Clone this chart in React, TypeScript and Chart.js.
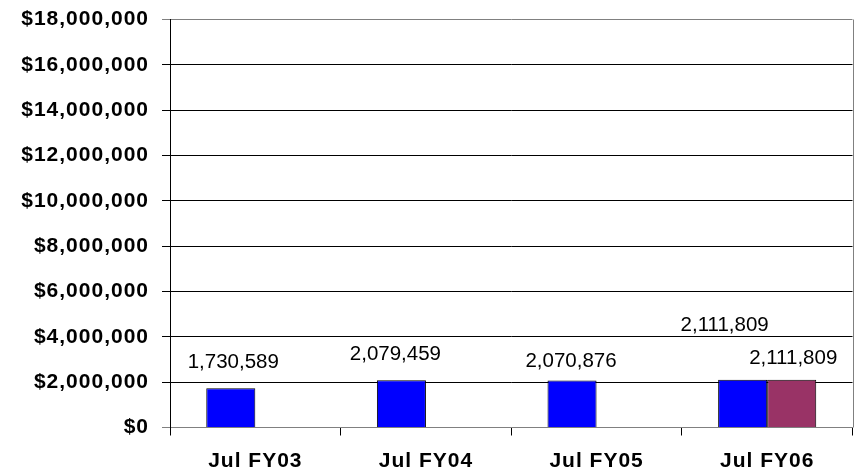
import React, { useEffect, useRef } from "react";
import { Chart, registerables } from "chart.js";

Chart.register(...registerables);

const categories = ["Jul FY03", "Jul FY04", "Jul FY05", "Jul FY06"];
const seriesA = [1730589, 2079459, 2070876, 2111809];
const seriesB = [null, null, null, 2111809];
const yMin = 0;
const yMax = 18000000;
const yStep = 2000000;

// label placement tweaks (styling only): [dx, dy above bar top]
const labelOffsetsA = [[2.5, 26], [-6, 26.5], [-1, 19], [-18, 54]];
const labelOffsetsB = [null, null, null, [1.5, 21]];

const FONT = '"Liberation Sans", Arial, sans-serif';

const spacing = {
  id: "spacing",
  beforeDraw(chart: any) {
    (chart.ctx as any).letterSpacing = "1px";
  },
};

const valueLabels = {
  id: "valueLabels",
  afterDatasetsDraw(chart: any) {
    const ctx = chart.ctx;
    ctx.save();
    (ctx as any).letterSpacing = "0px";
    ctx.font = `20.5px ${FONT}`;
    ctx.fillStyle = "#000";
    ctx.textAlign = "center";
    ctx.textBaseline = "middle";
    const offs = [labelOffsetsA, labelOffsetsB];
    chart.data.datasets.forEach((ds: any, di: number) => {
      const meta = chart.getDatasetMeta(di);
      meta.data.forEach((el: any, i: number) => {
        const v = ds.data[i];
        if (v == null) return;
        const o = offs[di][i] || [0, 20];
        ctx.fillText(Number(v).toLocaleString("en-US"), el.x + o[0], el.y - o[1]);
      });
    });
    ctx.restore();
  },
};

const rightBorder = {
  id: "rightBorder",
  afterDraw(chart: any) {
    const { ctx, chartArea } = chart;
    ctx.save();
    ctx.strokeStyle = "#808080";
    ctx.lineWidth = 1;
    const x = Math.round(chartArea.right) + 0.5;
    ctx.beginPath();
    ctx.moveTo(x, chartArea.top);
    ctx.lineTo(x, chartArea.bottom);
    ctx.stroke();
    ctx.restore();
  },
};

export default function App() {
  const ref = useRef<HTMLCanvasElement>(null);
  useEffect(() => {
    if (!ref.current) return;
    const chart = new Chart(ref.current, {
      type: "bar",
      data: {
        labels: categories,
        datasets: [
          { data: seriesA, backgroundColor: "#0000FF", borderColor: "#000", borderWidth: 1, barPercentage: 1, categoryPercentage: 0.575 },
          { data: seriesB as any, backgroundColor: "#993366", borderColor: "#000", borderWidth: 1, barPercentage: 1, categoryPercentage: 0.575 },
        ],
      },
      options: {
        animation: false,
        responsive: false,
        maintainAspectRatio: false,
        layout: { padding: { top: 19.5, right: 6.5, bottom: 0, left: 0 } },
        plugins: { legend: { display: false }, tooltip: { enabled: false } },
        scales: {
          x: {
            grid: { offset: true, drawOnChartArea: false, drawTicks: true, tickLength: 8, color: "#000" },
            border: { display: true, color: "#808080", width: 1 },
            ticks: { color: "#000", font: { family: FONT, size: 21, weight: "bold" }, padding: 13, maxRotation: 0 },
            afterFit: (s: any) => {
              s.height = 45.5;
              s.paddingLeft = 0;
              s.paddingRight = 0;
            },
          },
          y: {
            min: yMin,
            max: yMax,
            grid: {
              color: (c: any) => c.tick && (c.tick.value === yMin || c.tick.value === yMax) ? "#808080" : "#000",
              tickLength: 8,
              lineWidth: 1,
            },
            border: { display: true, color: "#000", width: 1 },
            ticks: {
              stepSize: yStep, color: "#000",
              font: { family: FONT, size: 21, weight: "bold" }, padding: 13,
              callback: (v: any) => "$" + Number(v).toLocaleString("en-US"),
            },
            afterFit: (s: any) => {
              s.width = 170;
              s.paddingTop = 0;
              s.paddingBottom = 0;
            },
          },
        },
      },
      plugins: [spacing, valueLabels, rightBorder],
    });
    return () => chart.destroy();
  }, []);
  return (
    <div style={{ position: "fixed", left: 0, top: 0, width: 859, height: 473, background: "#fff" }}>
      <canvas ref={ref} width={859} height={473} style={{ display: "block" }} />
    </div>
  );
}
